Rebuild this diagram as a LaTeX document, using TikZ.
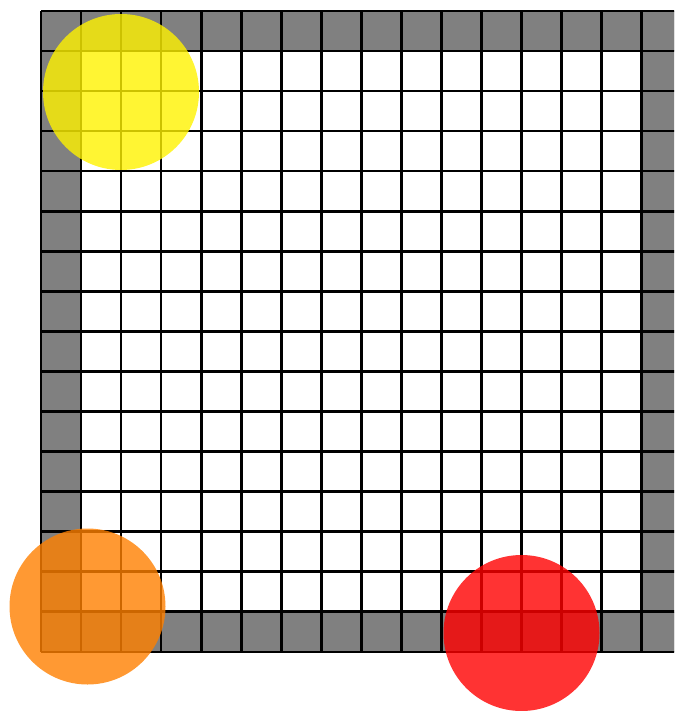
\documentclass[tikz,border=0pt]{standalone}
\begin{document}
\begin{tikzpicture}[x=1pt,y=-1pt,
  gridline/.style={line width=2.6pt,black},
  wallcell/.style={fill=gray},
  disc/.style={opacity=0.8}]
\useasboundingbox (0,0) rectangle (674,711);
\begin{scope}
\clip (0,0) rectangle (674,711);
% gray border cells
\fill[wallcell] (41,11) rectangle (681.8,51.05);
\fill[wallcell] (41,611.7) rectangle (681.8,651.8);
\fill[wallcell] (41,11) rectangle (81.1,651.8);
\fill[wallcell] (641.7,11) rectangle (681.8,651.8);
% grid lines
\foreach \i in {0,...,16}{
  \draw[gridline] ({41+40.05*\i},11) -- ({41+40.05*\i},651.8);
  \draw[gridline] (41,{11+40.05*\i}) -- (681.8,{11+40.05*\i});
}
% discs
\fill[disc,fill=yellow] (121,92) circle[radius=78];
\fill[disc,fill={rgb,255:red,255;green,128;blue,0}] (87.5,606.5) circle[radius=78];
\fill[disc,fill=red] (521.5,633) circle[radius=78];
\end{scope}
\end{tikzpicture}
\end{document}
